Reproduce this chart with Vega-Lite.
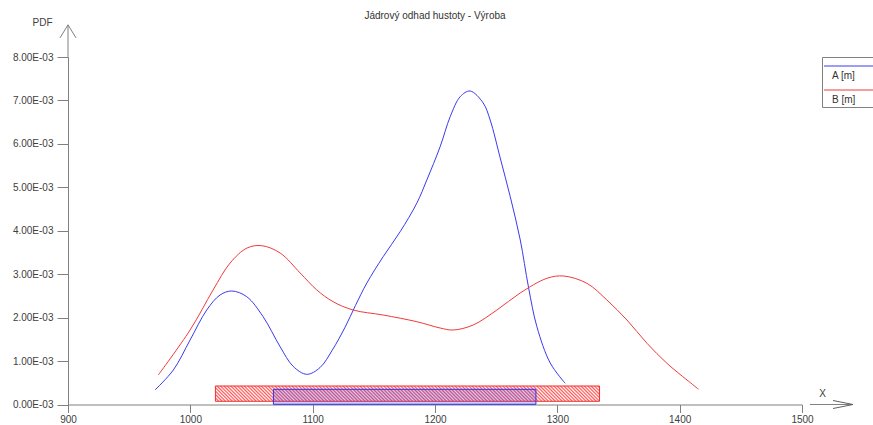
{
  "$schema": "https://vega.github.io/schema/vega-lite/v6.json",
  "autosize": {"type": "none"},
  "width": 734,
  "height": 347.5,
  "padding": {"left": 68, "top": 57, "right": 71, "bottom": 20.5},
  "background": "white",
  "title": {"text": "Jádrový odhad hustoty - Výroba", "fontSize": 10, "fontWeight": "normal", "color": "#333333", "anchor": "middle", "offset": -4},
  "config": {
    "font": "Liberation Sans",
    "view": {"stroke": null},
    "axis": {"grid": false, "domainColor": "#808080", "tickColor": "#808080", "labelColor": "#404040", "labelFontSize": 10, "titleColor": "#404040", "titleFontSize": 10, "titleFontWeight": "normal"},
    "axisX": {"titleX": 754, "titleY": -11, "titleAngle": 0, "titleAlign": "center", "titleBaseline": "middle", "tickSize": 8, "labelPadding": 2, "labelFlush": false},
    "axisY": {"titleX": -26, "titleY": -35, "titleAngle": 0, "titleAlign": "center", "titleBaseline": "middle", "tickSize": 11, "labelPadding": 4}
  },
  "datasets": {
    "curves": [
      {"series": "A [m]", "x": 971.1, "pdf": 0.000334},
      {"series": "A [m]", "x": 986.1, "pdf": 0.000794},
      {"series": "A [m]", "x": 999.8, "pdf": 0.001485},
      {"series": "A [m]", "x": 1013.4, "pdf": 0.002175},
      {"series": "A [m]", "x": 1024.3, "pdf": 0.002521},
      {"series": "A [m]", "x": 1033.9, "pdf": 0.002613},
      {"series": "A [m]", "x": 1046.1, "pdf": 0.002482},
      {"series": "A [m]", "x": 1059.5, "pdf": 0.002021},
      {"series": "A [m]", "x": 1073.4, "pdf": 0.00133},
      {"series": "A [m]", "x": 1084.0, "pdf": 0.00088},
      {"series": "A [m]", "x": 1095.2, "pdf": 0.000695},
      {"series": "A [m]", "x": 1106.0, "pdf": 0.00085},
      {"series": "A [m]", "x": 1116.0, "pdf": 0.00125},
      {"series": "A [m]", "x": 1126.5, "pdf": 0.00178},
      {"series": "A [m]", "x": 1135.0, "pdf": 0.00228},
      {"series": "A [m]", "x": 1144.3, "pdf": 0.002797},
      {"series": "A [m]", "x": 1157.6, "pdf": 0.003402},
      {"series": "A [m]", "x": 1171.5, "pdf": 0.003978},
      {"series": "A [m]", "x": 1185.2, "pdf": 0.004639},
      {"series": "A [m]", "x": 1193.3, "pdf": 0.005168},
      {"series": "A [m]", "x": 1204.2, "pdf": 0.005935},
      {"series": "A [m]", "x": 1212.4, "pdf": 0.006625},
      {"series": "A [m]", "x": 1220.6, "pdf": 0.007086},
      {"series": "A [m]", "x": 1228.7, "pdf": 0.007217},
      {"series": "A [m]", "x": 1239.4, "pdf": 0.006941},
      {"series": "A [m]", "x": 1245.1, "pdf": 0.006549},
      {"series": "A [m]", "x": 1253.3, "pdf": 0.005675},
      {"series": "A [m]", "x": 1261.5, "pdf": 0.004784},
      {"series": "A [m]", "x": 1269.7, "pdf": 0.003787},
      {"series": "A [m]", "x": 1276.4, "pdf": 0.002705},
      {"series": "A [m]", "x": 1283.3, "pdf": 0.001791},
      {"series": "A [m]", "x": 1294.2, "pdf": 0.000955},
      {"series": "A [m]", "x": 1306.4, "pdf": 0.000488},
      {"series": "B [m]", "x": 973.8, "pdf": 0.000679},
      {"series": "B [m]", "x": 999.8, "pdf": 0.001715},
      {"series": "B [m]", "x": 1018.6, "pdf": 0.002636},
      {"series": "B [m]", "x": 1032.5, "pdf": 0.003257},
      {"series": "B [m]", "x": 1046.4, "pdf": 0.003603},
      {"series": "B [m]", "x": 1058.4, "pdf": 0.003656},
      {"series": "B [m]", "x": 1073.4, "pdf": 0.003488},
      {"series": "B [m]", "x": 1089.8, "pdf": 0.003027},
      {"series": "B [m]", "x": 1103.4, "pdf": 0.002636},
      {"series": "B [m]", "x": 1116.7, "pdf": 0.002367},
      {"series": "B [m]", "x": 1133.1, "pdf": 0.002175},
      {"series": "B [m]", "x": 1157.6, "pdf": 0.00206},
      {"series": "B [m]", "x": 1185.2, "pdf": 0.001906},
      {"series": "B [m]", "x": 1204.2, "pdf": 0.001761},
      {"series": "B [m]", "x": 1214.9, "pdf": 0.001715},
      {"series": "B [m]", "x": 1231.2, "pdf": 0.00183},
      {"series": "B [m]", "x": 1250.6, "pdf": 0.002175},
      {"series": "B [m]", "x": 1269.6, "pdf": 0.002567},
      {"series": "B [m]", "x": 1291.5, "pdf": 0.002905},
      {"series": "B [m]", "x": 1305.1, "pdf": 0.002958},
      {"series": "B [m]", "x": 1324.2, "pdf": 0.00279},
      {"series": "B [m]", "x": 1340.5, "pdf": 0.002406},
      {"series": "B [m]", "x": 1356.9, "pdf": 0.001945},
      {"series": "B [m]", "x": 1373.3, "pdf": 0.001409},
      {"series": "B [m]", "x": 1389.6, "pdf": 0.000948},
      {"series": "B [m]", "x": 1406.0, "pdf": 0.000564},
      {"series": "B [m]", "x": 1415.5, "pdf": 0.00035}
    ],
    "bands": [
      {"series": "B [m]", "from": 1020.5, "to": 1334.5, "lo": 0.000074, "hi": 0.000426},
      {"series": "A [m]", "from": 1067.9, "to": 1282.5, "lo": 0.000005, "hi": 0.00035}
    ]
  },
  "layer": [
    {
      "data": {"name": "curves"},
      "mark": {"type": "line", "interpolate": "catmull-rom", "strokeWidth": 1},
      "encoding": {
        "x": {"field": "x", "type": "quantitative", "title": "X", "scale": {"domain": [900, 1500], "nice": false, "zero": false}, "axis": {"values": [900, 1000, 1100, 1200, 1300, 1400, 1500], "format": "d"}},
        "y": {"field": "pdf", "type": "quantitative", "title": "PDF", "scale": {"domain": [0, 0.008], "nice": false}, "axis": {"values": [0, 0.001, 0.002, 0.003, 0.004, 0.005, 0.006, 0.007, 0.008], "labelExpr": "format(datum.value*1000,'.2f')+'E-03'"}},
        "color": {"field": "series", "type": "nominal", "scale": {"domain": ["A [m]", "B [m]"], "range": ["#3a3af0", "#f03a3a"]},
          "legend": {"orient": "none", "legendX": 754, "legendY": 0, "title": " ", "titleFontSize": 6, "titlePadding": 6, "strokeColor": "#808080", "padding": 2, "symbolType": "M-5,-10H60", "symbolSize": 4, "symbolStrokeWidth": 1, "labelFontSize": 10, "labelColor": "#333333", "rowPadding": 7, "labelOffset": -2}}
      }
    },
    {
      "data": {"name": "bands"},
      "transform": [{"filter": "datum.series == 'B [m]'"}],
      "mark": {"type": "rect", "stroke": "#f03030", "strokeWidth": 1,
        "fill": {"gradient": "linear", "x1": 0, "y1": 1, "x2": 1.1046, "y2": 0.956, "stops": [
          {"offset": 0, "color": "#f55"}, {"offset": 0.004, "color": "#fff"}, {"offset": 0.008, "color": "#f55"}, {"offset": 0.012, "color": "#fff"}, {"offset": 0.016, "color": "#f55"}, {"offset": 0.02, "color": "#fff"}, {"offset": 0.024, "color": "#f55"}, {"offset": 0.028, "color": "#fff"}, {"offset": 0.032, "color": "#f55"}, {"offset": 0.036, "color": "#fff"},
          {"offset": 0.04, "color": "#f55"}, {"offset": 0.044, "color": "#fff"}, {"offset": 0.048, "color": "#f55"}, {"offset": 0.052, "color": "#fff"}, {"offset": 0.056, "color": "#f55"}, {"offset": 0.06, "color": "#fff"}, {"offset": 0.064, "color": "#f55"}, {"offset": 0.068, "color": "#fff"}, {"offset": 0.072, "color": "#f55"}, {"offset": 0.076, "color": "#fff"},
          {"offset": 0.08, "color": "#f55"}, {"offset": 0.084, "color": "#fff"}, {"offset": 0.088, "color": "#f55"}, {"offset": 0.092, "color": "#fff"}, {"offset": 0.096, "color": "#f55"}, {"offset": 0.1, "color": "#fff"}, {"offset": 0.104, "color": "#f55"}, {"offset": 0.108, "color": "#fff"}, {"offset": 0.112, "color": "#f55"}, {"offset": 0.116, "color": "#fff"},
          {"offset": 0.12, "color": "#f55"}, {"offset": 0.124, "color": "#fff"}, {"offset": 0.128, "color": "#f55"}, {"offset": 0.132, "color": "#fff"}, {"offset": 0.136, "color": "#f55"}, {"offset": 0.14, "color": "#fff"}, {"offset": 0.144, "color": "#f55"}, {"offset": 0.148, "color": "#fff"}, {"offset": 0.152, "color": "#f55"}, {"offset": 0.156, "color": "#fff"},
          {"offset": 0.16, "color": "#f55"}, {"offset": 0.164, "color": "#fff"}, {"offset": 0.168, "color": "#f55"}, {"offset": 0.172, "color": "#fff"}, {"offset": 0.176, "color": "#f55"}, {"offset": 0.18, "color": "#fff"}, {"offset": 0.184, "color": "#f55"}, {"offset": 0.188, "color": "#fff"}, {"offset": 0.192, "color": "#f55"}, {"offset": 0.196, "color": "#fff"},
          {"offset": 0.2, "color": "#f55"}, {"offset": 0.204, "color": "#fff"}, {"offset": 0.208, "color": "#f55"}, {"offset": 0.212, "color": "#fff"}, {"offset": 0.216, "color": "#f55"}, {"offset": 0.22, "color": "#fff"}, {"offset": 0.224, "color": "#f55"}, {"offset": 0.228, "color": "#fff"}, {"offset": 0.232, "color": "#f55"}, {"offset": 0.236, "color": "#fff"},
          {"offset": 0.24, "color": "#f55"}, {"offset": 0.244, "color": "#fff"}, {"offset": 0.248, "color": "#f55"}, {"offset": 0.252, "color": "#fff"}, {"offset": 0.256, "color": "#f55"}, {"offset": 0.26, "color": "#fff"}, {"offset": 0.264, "color": "#f55"}, {"offset": 0.268, "color": "#fff"}, {"offset": 0.272, "color": "#f55"}, {"offset": 0.276, "color": "#fff"},
          {"offset": 0.28, "color": "#f55"}, {"offset": 0.284, "color": "#fff"}, {"offset": 0.288, "color": "#f55"}, {"offset": 0.292, "color": "#fff"}, {"offset": 0.296, "color": "#f55"}, {"offset": 0.3, "color": "#fff"}, {"offset": 0.304, "color": "#f55"}, {"offset": 0.308, "color": "#fff"}, {"offset": 0.312, "color": "#f55"}, {"offset": 0.316, "color": "#fff"},
          {"offset": 0.32, "color": "#f55"}, {"offset": 0.324, "color": "#fff"}, {"offset": 0.328, "color": "#f55"}, {"offset": 0.332, "color": "#fff"}, {"offset": 0.336, "color": "#f55"}, {"offset": 0.34, "color": "#fff"}, {"offset": 0.344, "color": "#f55"}, {"offset": 0.348, "color": "#fff"}, {"offset": 0.352, "color": "#f55"}, {"offset": 0.356, "color": "#fff"},
          {"offset": 0.36, "color": "#f55"}, {"offset": 0.364, "color": "#fff"}, {"offset": 0.368, "color": "#f55"}, {"offset": 0.372, "color": "#fff"}, {"offset": 0.376, "color": "#f55"}, {"offset": 0.38, "color": "#fff"}, {"offset": 0.384, "color": "#f55"}, {"offset": 0.388, "color": "#fff"}, {"offset": 0.392, "color": "#f55"}, {"offset": 0.396, "color": "#fff"},
          {"offset": 0.4, "color": "#f55"}, {"offset": 0.404, "color": "#fff"}, {"offset": 0.408, "color": "#f55"}, {"offset": 0.412, "color": "#fff"}, {"offset": 0.416, "color": "#f55"}, {"offset": 0.42, "color": "#fff"}, {"offset": 0.424, "color": "#f55"}, {"offset": 0.428, "color": "#fff"}, {"offset": 0.432, "color": "#f55"}, {"offset": 0.436, "color": "#fff"},
          {"offset": 0.44, "color": "#f55"}, {"offset": 0.444, "color": "#fff"}, {"offset": 0.448, "color": "#f55"}, {"offset": 0.452, "color": "#fff"}, {"offset": 0.456, "color": "#f55"}, {"offset": 0.46, "color": "#fff"}, {"offset": 0.464, "color": "#f55"}, {"offset": 0.468, "color": "#fff"}, {"offset": 0.472, "color": "#f55"}, {"offset": 0.476, "color": "#fff"},
          {"offset": 0.48, "color": "#f55"}, {"offset": 0.484, "color": "#fff"}, {"offset": 0.488, "color": "#f55"}, {"offset": 0.492, "color": "#fff"}, {"offset": 0.496, "color": "#f55"}, {"offset": 0.5, "color": "#fff"}, {"offset": 0.504, "color": "#f55"}, {"offset": 0.508, "color": "#fff"}, {"offset": 0.512, "color": "#f55"}, {"offset": 0.516, "color": "#fff"},
          {"offset": 0.52, "color": "#f55"}, {"offset": 0.524, "color": "#fff"}, {"offset": 0.528, "color": "#f55"}, {"offset": 0.532, "color": "#fff"}, {"offset": 0.536, "color": "#f55"}, {"offset": 0.54, "color": "#fff"}, {"offset": 0.544, "color": "#f55"}, {"offset": 0.548, "color": "#fff"}, {"offset": 0.552, "color": "#f55"}, {"offset": 0.556, "color": "#fff"},
          {"offset": 0.56, "color": "#f55"}, {"offset": 0.564, "color": "#fff"}, {"offset": 0.568, "color": "#f55"}, {"offset": 0.572, "color": "#fff"}, {"offset": 0.576, "color": "#f55"}, {"offset": 0.58, "color": "#fff"}, {"offset": 0.584, "color": "#f55"}, {"offset": 0.588, "color": "#fff"}, {"offset": 0.592, "color": "#f55"}, {"offset": 0.596, "color": "#fff"},
          {"offset": 0.6, "color": "#f55"}, {"offset": 0.604, "color": "#fff"}, {"offset": 0.608, "color": "#f55"}, {"offset": 0.612, "color": "#fff"}, {"offset": 0.616, "color": "#f55"}, {"offset": 0.62, "color": "#fff"}, {"offset": 0.624, "color": "#f55"}, {"offset": 0.628, "color": "#fff"}, {"offset": 0.632, "color": "#f55"}, {"offset": 0.636, "color": "#fff"},
          {"offset": 0.64, "color": "#f55"}, {"offset": 0.644, "color": "#fff"}, {"offset": 0.648, "color": "#f55"}, {"offset": 0.652, "color": "#fff"}, {"offset": 0.656, "color": "#f55"}, {"offset": 0.66, "color": "#fff"}, {"offset": 0.664, "color": "#f55"}, {"offset": 0.668, "color": "#fff"}, {"offset": 0.672, "color": "#f55"}, {"offset": 0.676, "color": "#fff"},
          {"offset": 0.68, "color": "#f55"}, {"offset": 0.684, "color": "#fff"}, {"offset": 0.688, "color": "#f55"}, {"offset": 0.692, "color": "#fff"}, {"offset": 0.696, "color": "#f55"}, {"offset": 0.7, "color": "#fff"}, {"offset": 0.704, "color": "#f55"}, {"offset": 0.708, "color": "#fff"}, {"offset": 0.712, "color": "#f55"}, {"offset": 0.716, "color": "#fff"},
          {"offset": 0.72, "color": "#f55"}, {"offset": 0.724, "color": "#fff"}, {"offset": 0.728, "color": "#f55"}, {"offset": 0.732, "color": "#fff"}, {"offset": 0.736, "color": "#f55"}, {"offset": 0.74, "color": "#fff"}, {"offset": 0.744, "color": "#f55"}, {"offset": 0.748, "color": "#fff"}, {"offset": 0.752, "color": "#f55"}, {"offset": 0.756, "color": "#fff"},
          {"offset": 0.76, "color": "#f55"}, {"offset": 0.764, "color": "#fff"}, {"offset": 0.768, "color": "#f55"}, {"offset": 0.772, "color": "#fff"}, {"offset": 0.776, "color": "#f55"}, {"offset": 0.78, "color": "#fff"}, {"offset": 0.784, "color": "#f55"}, {"offset": 0.788, "color": "#fff"}, {"offset": 0.792, "color": "#f55"}, {"offset": 0.796, "color": "#fff"},
          {"offset": 0.8, "color": "#f55"}, {"offset": 0.804, "color": "#fff"}, {"offset": 0.808, "color": "#f55"}, {"offset": 0.812, "color": "#fff"}, {"offset": 0.816, "color": "#f55"}, {"offset": 0.82, "color": "#fff"}, {"offset": 0.824, "color": "#f55"}, {"offset": 0.828, "color": "#fff"}, {"offset": 0.832, "color": "#f55"}, {"offset": 0.836, "color": "#fff"},
          {"offset": 0.84, "color": "#f55"}, {"offset": 0.844, "color": "#fff"}, {"offset": 0.848, "color": "#f55"}, {"offset": 0.852, "color": "#fff"}, {"offset": 0.856, "color": "#f55"}, {"offset": 0.86, "color": "#fff"}, {"offset": 0.864, "color": "#f55"}, {"offset": 0.868, "color": "#fff"}, {"offset": 0.872, "color": "#f55"}, {"offset": 0.876, "color": "#fff"},
          {"offset": 0.88, "color": "#f55"}, {"offset": 0.884, "color": "#fff"}, {"offset": 0.888, "color": "#f55"}, {"offset": 0.892, "color": "#fff"}, {"offset": 0.896, "color": "#f55"}, {"offset": 0.9, "color": "#fff"}, {"offset": 0.904, "color": "#f55"}, {"offset": 0.908, "color": "#fff"}, {"offset": 0.912, "color": "#f55"}, {"offset": 0.916, "color": "#fff"},
          {"offset": 0.92, "color": "#f55"}, {"offset": 0.924, "color": "#fff"}, {"offset": 0.928, "color": "#f55"}, {"offset": 0.932, "color": "#fff"}, {"offset": 0.936, "color": "#f55"}, {"offset": 0.94, "color": "#fff"}, {"offset": 0.944, "color": "#f55"}, {"offset": 0.948, "color": "#fff"}, {"offset": 0.952, "color": "#f55"}, {"offset": 0.956, "color": "#fff"},
          {"offset": 0.96, "color": "#f55"}, {"offset": 0.964, "color": "#fff"}, {"offset": 0.968, "color": "#f55"}, {"offset": 0.972, "color": "#fff"}, {"offset": 0.976, "color": "#f55"}, {"offset": 0.98, "color": "#fff"}, {"offset": 0.984, "color": "#f55"}, {"offset": 0.988, "color": "#fff"}, {"offset": 0.992, "color": "#f55"}, {"offset": 0.996, "color": "#fff"},
          {"offset": 1, "color": "#f55"}
        ]}},
      "encoding": {
        "x": {"field": "from", "type": "quantitative", "title": "X"},
        "x2": {"field": "to"},
        "y": {"field": "lo", "type": "quantitative", "title": "PDF"},
        "y2": {"field": "hi"}
      }
    },
    {
      "data": {"name": "bands"},
      "transform": [{"filter": "datum.series == 'A [m]'"}],
      "mark": {"type": "rect", "fill": "#4a3ae8", "fillOpacity": 0.26, "stroke": "#3030f0", "strokeWidth": 1},
      "encoding": {
        "x": {"field": "from", "type": "quantitative", "title": "X"},
        "x2": {"field": "to"},
        "y": {"field": "lo", "type": "quantitative", "title": "PDF"},
        "y2": {"field": "hi"}
      }
    },
    {
      "data": {"values": [{}]},
      "mark": {"type": "rule", "color": "#808080", "strokeWidth": 1},
      "encoding": {
        "x": {"datum": 900, "type": "quantitative", "title": "X"},
        "y": {"datum": 0.008, "type": "quantitative", "title": "PDF"},
        "y2": {"datum": 0.00874}
      }
    },
    {
      "data": {"values": [{}]},
      "mark": {"type": "point", "shape": "M-8,13L0,0L8,13", "size": 4, "filled": false, "stroke": "#808080", "strokeWidth": 1, "opacity": 1},
      "encoding": {
        "x": {"datum": 900, "type": "quantitative", "title": "X"},
        "y": {"datum": 0.00874, "type": "quantitative", "title": "PDF"}
      }
    },
    {
      "data": {"values": [{}]},
      "mark": {"type": "rule", "color": "#808080", "strokeWidth": 1},
      "encoding": {
        "x": {"datum": 1506.5, "type": "quantitative", "title": "X"},
        "x2": {"datum": 1541.7},
        "y": {"datum": 0, "type": "quantitative", "title": "PDF"}
      }
    },
    {
      "data": {"values": [{}]},
      "mark": {"type": "point", "shape": "M-20,-4L0,0L-20,4", "size": 4, "filled": false, "stroke": "#606060", "strokeWidth": 1, "opacity": 1},
      "encoding": {
        "x": {"datum": 1541.7, "type": "quantitative", "title": "X"},
        "y": {"datum": 0, "type": "quantitative", "title": "PDF"}
      }
    }
  ]
}
